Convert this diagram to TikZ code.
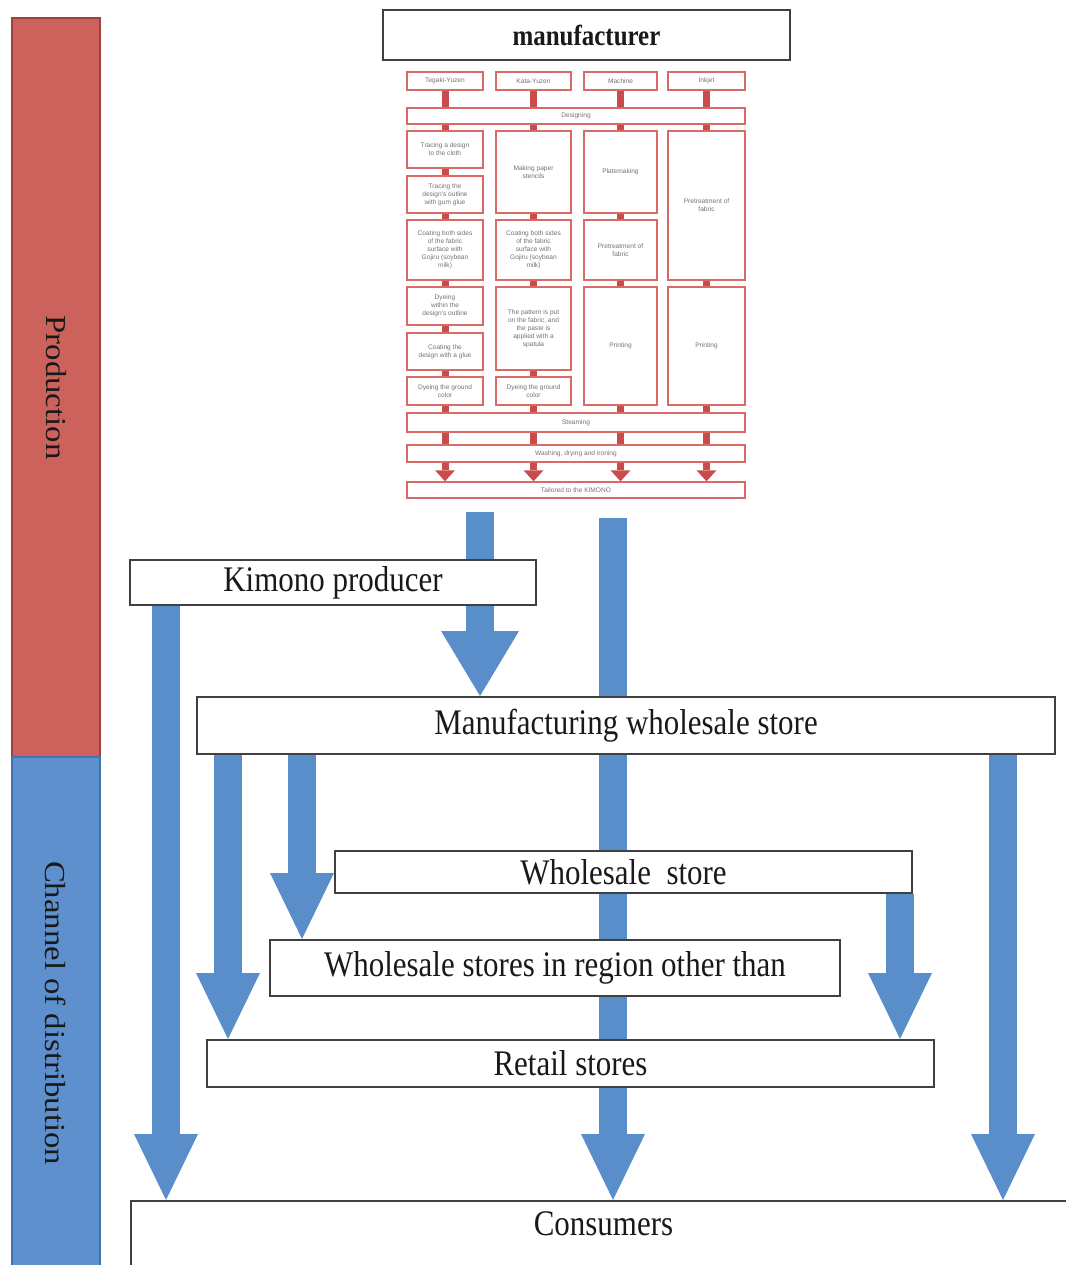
\documentclass[tikz,border=0pt]{standalone}
\usepackage{fontspec}
\setmainfont{Liberation Serif}
\newfontfamily\chartfont{Liberation Sans}
\usetikzlibrary{arrows.meta}
\pgfdeclarelayer{background}
\pgfsetlayers{background,main}
\definecolor{cred}{HTML}{D96A66}
\definecolor{cconn}{HTML}{C94B4B}
\definecolor{prodfill}{HTML}{CD625C}
\definecolor{prodline}{HTML}{9E423D}
\definecolor{chanfill}{HTML}{5D90CC}
\definecolor{chanline}{HTML}{4273AD}
\definecolor{cblue}{HTML}{5A8ECB}
\newcommand\cb[5]{\node[cbox, minimum width=#3pt, minimum height=#4pt] (#1) at (#2) {#5};}
\newcommand\sq[1]{\scalebox{0.86}[1]{#1}}
\newcommand\st[1]{\scalebox{1.13}[1]{#1}}
\begin{document}
\begin{tikzpicture}[x=1pt,y=-1pt]
\tikzset{
 dbox/.style={draw=black!75, line width=2pt, fill=white, inner sep=0pt, text=black!90, font=\fontsize{36}{40}\selectfont},
 cbox/.style={draw=cred, line width=1.4pt, fill=white, inner sep=0pt, text=black!55, align=center, font=\chartfont\fontsize{6.6}{8}\selectfont},
 bar/.style={rotate=-90, line width=1.5pt, inner sep=0pt, font=\fontsize{29}{34}\selectfont, text=black!90},
 barrow/.style={draw=cblue, line width=28pt, -{Triangle[width=64pt,length=66pt,line width=0pt]}},
 rconn/.style={draw=cconn, line width=7pt},
 rarrow/.style={draw=cconn, line width=7pt, -{Triangle[width=20pt,length=11pt,line width=0pt]}},
}
\useasboundingbox (0,0) rectangle (1065,1265);
% side bars
\node[bar, fill=prodfill, draw=prodline, minimum width=739pt, minimum height=88pt] (prod) at (56,387.5) {\st{Production}};
\node[bar, fill=chanfill, draw=chanline, minimum width=512pt, minimum height=88pt] (chan) at (56,1013) {\st{Channel of distribution}};
% manufacturer
\node[dbox, font=\bfseries\fontsize{29}{32}\selectfont, minimum width=407pt, minimum height=50pt] (manu) at (586.5,35) {\sq{manufacturer}};
% production chart
\cb{t1}{445,81}{76}{18}{Tegaki-Yuzen}
\cb{t2}{533.5,81}{75}{18}{Kata-Yuzen}
\cb{t3}{620.5,81}{73}{18}{Machine}
\cb{t4}{706.5,81}{77}{18}{Inkjet}
\cb{des}{576,116}{338}{16}{Designing}
\cb{p11}{445,149.5}{76}{37}{Tracing a design\\to the cloth}
\cb{p12}{445,194.5}{76}{37}{Tracing the\\design's outline\\with gum glue}
\cb{p13}{445,250}{76}{60}{Coating both sides\\of the fabric\\surface with\\Gojiru (soybean\\milk)}
\cb{p14}{445,306}{76}{38}{Dyeing\\within the\\design's outline}
\cb{p15}{445,351.5}{76}{37}{Coating the\\design with a glue}
\cb{p16}{445,391}{76}{28}{Dyeing the ground\\color}
\cb{p21}{533.5,172}{75}{82}{Making paper\\stencils}
\cb{p22}{533.5,250}{75}{60}{Coating both sides\\of the fabric\\surface with\\Gojiru (soybean\\milk)}
\cb{p23}{533.5,328.5}{75}{83}{The pattern is put\\on the fabric, and\\the paste is\\applied with a\\spatula}
\cb{p24}{533.5,391}{75}{28}{Dyeing the ground\\color}
\cb{p31}{620.5,172}{73}{82}{Platemaking}
\cb{p32}{620.5,250}{73}{60}{Pretreatment of\\fabric}
\cb{p33}{620.5,346}{73}{118}{Printing}
\cb{p41}{706.5,205.5}{77}{149}{Pretreatment of\\fabric}
\cb{p42}{706.5,346}{77}{118}{Printing}
\cb{steam}{576,422.5}{338}{19}{Steaming}
\cb{wash}{576,453.5}{338}{17}{Washing, drying and ironing}
\cb{tail}{576,490}{338}{16}{Tailored to the KIMONO}
\foreach \c in {1,...,4} {
  \draw[rconn] (t\c.south) -- (t\c.south |- des.north);
  \draw[rconn] (t\c.south |- des.south) -- (p\c1.north);
  \draw[rconn] (t\c.south |- steam.south) -- (t\c.south |- wash.north);
  \draw[rarrow] (t\c.south |- wash.south) -- (t\c.south |- tail.north);
}
\foreach \a/\b in {p11/p12,p12/p13,p13/p14,p14/p15,p15/p16,p21/p22,p22/p23,p23/p24,p31/p32,p32/p33,p41/p42} {
  \draw[rconn] (\a.south) -- (\b.north);
}
\foreach \a in {p16,p24,p33,p42} {
  \draw[rconn] (\a.south) -- (\a.south |- steam.north);
}
% distribution boxes
\node[dbox, minimum width=406pt, minimum height=45pt] (kp) at (333,582.5) {\sq{Kimono producer}};
\node[dbox, minimum width=858pt, minimum height=57pt] (mws) at (626,725.5) {\sq{Manufacturing wholesale store}};
\node[dbox, minimum width=577pt, minimum height=42pt] (ws) at (623.5,872) {\sq{Wholesale~ store}};
\node[dbox, minimum width=570pt, minimum height=56pt] (wsr) at (555,968) {\sq{Wholesale stores in region other than}};
\node[dbox, minimum width=727pt, minimum height=47pt] (rs) at (570.5,1063.5) {\sq{Retail stores}};
\node[dbox, anchor=north west, minimum width=945pt, text width=945pt, align=center, text height=34pt, text depth=62pt] (cons) at (130,1200) {\sq{Consumers}};
% blue arrows
\coordinate (s1) at (480,512);
\coordinate (s2) at (613,518);
\coordinate (x3) at (166,0);
\coordinate (x4) at (228,0);
\coordinate (x5) at (302,0);
\coordinate (x6) at (1003,0);
\coordinate (x7) at (900,0);
\begin{pgfonlayer}{background}
\draw[barrow, -{Triangle[width=78pt,length=65pt,line width=0pt]}] (s1) -- (s1 |- mws.north);
\draw[barrow] (s2) -- (s2 |- cons.north);
\draw[barrow] (kp.south -| x3) -- (cons.north -| x3);
\draw[barrow] (mws.south -| x4) -- (rs.north -| x4);
\draw[barrow] (mws.south -| x5) -- (wsr.north -| x5);
\draw[barrow] (mws.south -| x6) -- (cons.north -| x6);
\draw[barrow] (ws.south -| x7) -- (rs.north -| x7);
\end{pgfonlayer}
\end{tikzpicture}
\end{document}
